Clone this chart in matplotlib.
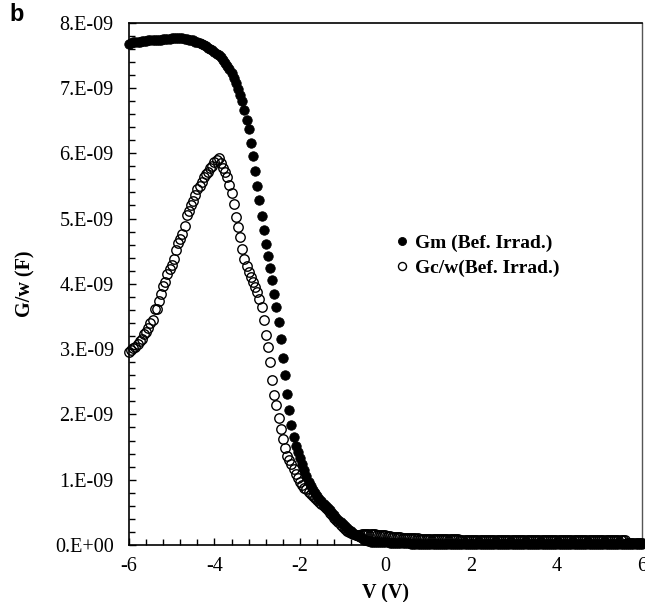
import numpy as np
import matplotlib
matplotlib.use("Agg")
import matplotlib.pyplot as plt
from matplotlib.ticker import MultipleLocator, FuncFormatter

# Gate-voltage sweep (V)
V_START, V_STOP, V_STEP = -6.0, 6.0, 0.05

# Measured Gm/w before irradiation, in units of 1e-9 F (one value per sweep step)
gm = [
    7.68, 7.69, 7.70, 7.70, 7.71, 7.71, 7.72, 7.72, 7.72, 7.73,
    7.73, 7.73, 7.74, 7.74, 7.74, 7.74, 7.75, 7.75, 7.75, 7.75,
    7.76, 7.76, 7.76, 7.76, 7.76, 7.76, 7.75, 7.75, 7.74, 7.74,
    7.73, 7.71, 7.70, 7.69, 7.67, 7.66, 7.64, 7.62, 7.60, 7.58,
    7.55, 7.52, 7.50, 7.47, 7.43, 7.39, 7.34, 7.29, 7.23, 7.16,
    7.08, 6.99, 6.90, 6.80, 6.66, 6.51, 6.37, 6.16, 5.96, 5.73,
    5.50, 5.28, 5.04, 4.82, 4.61, 4.43, 4.25, 4.06, 3.85, 3.65,
    3.42, 3.15, 2.87, 2.60, 2.31, 2.07, 1.84, 1.66, 1.52, 1.42,
    1.33, 1.24, 1.15, 1.06, 0.97, 0.90, 0.84, 0.79, 0.75, 0.71,
    0.67, 0.63, 0.60, 0.56, 0.53, 0.49, 0.46, 0.42, 0.39, 0.35,
    0.32, 0.29, 0.26, 0.23, 0.21, 0.18, 0.16, 0.14, 0.12, 0.10,
    0.08, 0.07, 0.06, 0.05, 0.05, 0.04, 0.04, 0.04, 0.04, 0.04,
    0.04, 0.04, 0.03, 0.03, 0.03, 0.03, 0.03, 0.03, 0.03, 0.03,
    0.03, 0.03, 0.02, 0.02, 0.02, 0.02, 0.02, 0.02, 0.02, 0.02,
    0.02, 0.02, 0.02, 0.02, 0.02, 0.02, 0.02, 0.02, 0.02, 0.02,
    0.02, 0.02, 0.02, 0.02, 0.02, 0.01, 0.01, 0.01, 0.01, 0.01,
    0.01, 0.01, 0.01, 0.01, 0.01, 0.01, 0.01, 0.01, 0.01, 0.01,
    0.01, 0.01, 0.01, 0.01, 0.01, 0.01, 0.01, 0.01, 0.01, 0.01,
    0.01, 0.01, 0.01, 0.01, 0.01, 0.01, 0.01, 0.01, 0.01, 0.01,
    0.01, 0.01, 0.01, 0.01, 0.01, 0.01, 0.01, 0.01, 0.01, 0.01,
    0.01, 0.01, 0.01, 0.01, 0.01, 0.01, 0.01, 0.01, 0.01, 0.01,
    0.01, 0.01, 0.01, 0.01, 0.01, 0.01, 0.01, 0.01, 0.01, 0.01,
    0.01, 0.01, 0.01, 0.01, 0.01, 0.01, 0.01, 0.01, 0.01, 0.01,
    0.01, 0.01, 0.01, 0.01, 0.01, 0.01, 0.01, 0.01, 0.01, 0.01,
    0.01,
]

# Corrected Gc/w before irradiation, in units of 1e-9 F
gc = [
    2.95, 2.98, 3.01, 3.04, 3.08, 3.12, 3.16, 3.23, 3.27, 3.33,
    3.40, 3.44, 3.61, 3.62, 3.74, 3.85, 3.97, 4.03, 4.15, 4.22,
    4.29, 4.38, 4.52, 4.63, 4.69, 4.76, 4.88, 5.06, 5.12, 5.20,
    5.27, 5.36, 5.46, 5.50, 5.56, 5.64, 5.68, 5.72, 5.78, 5.81,
    5.86, 5.90, 5.93, 5.85, 5.78, 5.72, 5.64, 5.51, 5.39, 5.22,
    5.02, 4.87, 4.71, 4.54, 4.38, 4.27, 4.18, 4.10, 4.03, 3.95,
    3.87, 3.77, 3.64, 3.45, 3.22, 3.03, 2.81, 2.53, 2.30, 2.14,
    1.94, 1.78, 1.62, 1.48, 1.37, 1.30, 1.24, 1.16, 1.09, 1.03,
    0.97, 0.92, 0.88, 0.85, 0.81, 0.78, 0.75, 0.72, 0.69, 0.66,
    0.63, 0.60, 0.56, 0.53, 0.49, 0.46, 0.42, 0.38, 0.35, 0.31,
    0.28, 0.25, 0.22, 0.20, 0.18, 0.17, 0.16, 0.16, 0.16, 0.17,
    0.17, 0.17, 0.17, 0.17, 0.17, 0.17, 0.16, 0.16, 0.16, 0.15,
    0.15, 0.14, 0.14, 0.13, 0.13, 0.12, 0.12, 0.12, 0.11, 0.11,
    0.11, 0.10, 0.10, 0.10, 0.10, 0.10, 0.09, 0.09, 0.09, 0.09,
    0.09, 0.09, 0.09, 0.09, 0.09, 0.09, 0.09, 0.09, 0.09, 0.09,
    0.09, 0.09, 0.09, 0.09, 0.09, 0.08, 0.08, 0.08, 0.08, 0.08,
    0.08, 0.08, 0.08, 0.08, 0.08, 0.08, 0.08, 0.08, 0.08, 0.08,
    0.08, 0.08, 0.08, 0.08, 0.08, 0.08, 0.08, 0.08, 0.08, 0.08,
    0.08, 0.08, 0.08, 0.08, 0.08, 0.08, 0.08, 0.08, 0.08, 0.08,
    0.08, 0.08, 0.08, 0.08, 0.08, 0.08, 0.08, 0.08, 0.08, 0.08,
    0.07, 0.07, 0.07, 0.07, 0.07, 0.07, 0.07, 0.07, 0.07, 0.07,
    0.07, 0.07, 0.07, 0.07, 0.07, 0.07, 0.07, 0.07, 0.07, 0.07,
    0.07, 0.07, 0.07, 0.07, 0.07, 0.07, 0.07, 0.07, 0.07, 0.07,
    0.07, 0.07, 0.07, 0.03, 0.03, 0.03, 0.03, 0.03, 0.03, 0.03,
    0.03,
]

series_labels = ["Gm (Bef. Irrad.)", "Gc/w(Bef. Irrad.)"]
x_label = "V (V)"
y_label = "G/w (F)"
panel_tag = "b"

SCALE = 1e-9
v = np.round(np.arange(V_START, V_STOP + V_STEP / 2, V_STEP), 2)
gm_f = np.array(gm) * SCALE
gc_f = np.array(gc) * SCALE

plt.rcParams["font.family"] = ["Liberation Serif", "DejaVu Serif"]

fig = plt.figure(figsize=(6.45, 6.02), dpi=100)
ax = fig.add_axes([0.2, 0.0947, 0.7953, 0.8676])

ax.plot(v, gm_f, linestyle="none", marker="o", markersize=6.8,
        markerfacecolor="black", markeredgecolor="black", markeredgewidth=0.6,
        clip_on=False, label=series_labels[0], zorder=3)
ax.plot(v, gc_f, linestyle="none", marker="o", markersize=6.8,
        markerfacecolor="none", markeredgecolor="black", markeredgewidth=1.0,
        clip_on=False, label=series_labels[1], zorder=4)

ax.set_xlim(-6, 6)
ax.set_ylim(0, 8e-9)
ax.xaxis.set_major_locator(MultipleLocator(2))
ax.xaxis.set_minor_locator(MultipleLocator(0.4))
ax.yaxis.set_major_locator(MultipleLocator(1e-9))
ax.yaxis.set_minor_locator(MultipleLocator(0.2e-9))


def excel_sci(val, pos):
    if abs(val) < 1e-15:
        return "0.E+00"
    exp = int(np.floor(np.log10(abs(val)) + 1e-9))
    mant = val / 10 ** exp
    sign = "-" if exp < 0 else "+"
    return f"{mant:.0f}.E{sign}{abs(exp):02d}"


ax.yaxis.set_major_formatter(FuncFormatter(excel_sci))
ax.xaxis.set_major_formatter(FuncFormatter(lambda val, pos: f"{val:g}"))

ax.tick_params(which="both", direction="in", top=False, right=False,
               labelsize=14.5, width=1.0, color="black")
ax.tick_params(axis="y", which="major", length=5, pad=11)
ax.tick_params(axis="y", which="minor", length=4)
ax.tick_params(axis="x", which="major", length=5, pad=9)
ax.tick_params(axis="x", which="minor", length=4)

for side in ["left", "bottom", "top"]:
    ax.spines[side].set_linewidth(1.2)
    ax.spines[side].set_color("black")
ax.spines["right"].set_linewidth(1.0)
ax.spines["right"].set_color("#555555")

ax.set_xlabel(x_label, fontsize=14.5, fontweight="bold", labelpad=5)
ax.set_ylabel(y_label, fontsize=14.5, fontweight="bold", labelpad=14)

leg = ax.legend(loc="center left", bbox_to_anchor=(0.518, 0.554), frameon=False,
                prop={"family": ["Liberation Serif"], "weight": "bold", "size": 14},
                markerscale=0.85, handlelength=0.7, handletextpad=0.35,
                labelspacing=0.35, borderpad=0, borderaxespad=0)

fig.text(0.014, 0.995, panel_tag, fontsize=17, fontweight="bold",
         family=["Liberation Sans", "DejaVu Sans"], va="top", ha="left")

fig.savefig("out.png", dpi=100)
